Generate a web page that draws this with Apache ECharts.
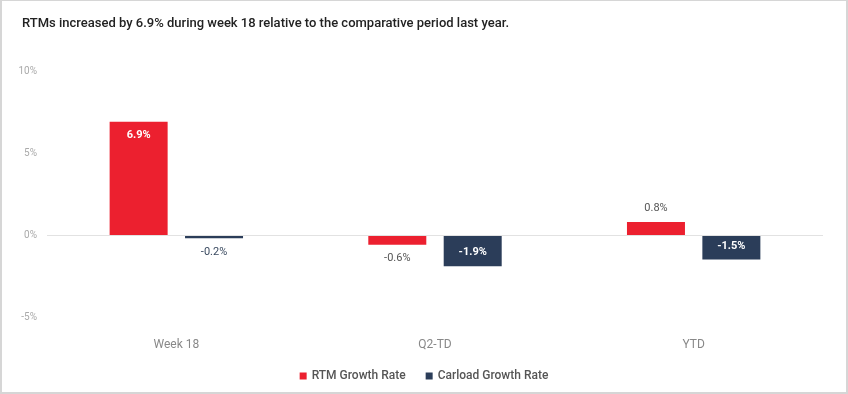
<!DOCTYPE html>
<html><head><meta charset="utf-8">
<script src="https://cdn.jsdelivr.net/npm/echarts@6/dist/echarts.min.js"></script>
<style>
html,body{margin:0;padding:0;background:#fff;}
#wrap{position:absolute;left:0;top:0;width:848px;height:394px;box-sizing:border-box;border:2px solid #d6d6d6;border-top-width:1px;}
#c{position:absolute;left:0;top:0;width:848px;height:394px;}
</style></head>
<body><div id="wrap"></div><div id="c"></div>
<script>
const titleText = "RTMs increased by 6.9% during week 18 relative to the comparative period last year.";
const categories = ["Week 18", "Q2-TD", "YTD"];
const rtmValues = [6.9, -0.6, 0.8];
const carloadValues = [-0.2, -1.9, -1.5];
const yTicks = [-5, 0, 5, 10];
const seriesNames = ["RTM Growth Rate", "Carload Growth Rate"];

const RED = "#ec202f", NAVY = "#2b3d59";
const fmt = v => v.toFixed(1) + "%";

function labelFor(v, inside, outsideColor) {
  if (inside) {
    return {show: true, position: v >= 0 ? "insideTop" : "insideBottom", distance: 8,
      color: "#fff", fontWeight: "bold", fontSize: 11, fontFamily: "Roboto", formatter: p => fmt(p.value)};
  }
  return {show: true, position: v >= 0 ? "top" : "bottom", distance: 8,
    color: outsideColor, fontSize: 11, fontFamily: "Roboto", formatter: p => fmt(p.value)};
}
function makeData(vals, outsideColor) {
  return vals.map(v => ({value: v, label: labelFor(v, Math.abs(v) >= 1.5, outsideColor)}));
}

const chart = echarts.init(document.getElementById("c"));
chart.setOption({
  animation: false,
  title: {text: titleText, left: 17, top: 12,
    textStyle: {fontFamily: "Roboto", fontSize: 13, fontWeight: 500, color: "#222"}},
  grid: {left: 47, right: 25, top: 71, bottom: 77, containLabel: false},
  legend: {bottom: 7, left: "center", itemWidth: 7, itemHeight: 7, itemGap: 20,
    icon: "rect", textStyle: {fontFamily: "Roboto", fontSize: 12, color: "#555", fontWeight: 500},
    data: seriesNames},
  xAxis: {type: "category", data: categories,
    axisLine: {show: false, onZero: false}, axisTick: {show: false},
    axisLabel: {color: "#888", fontFamily: "Roboto", fontSize: 12, margin: 22}},
  yAxis: {type: "value", min: yTicks[0], max: yTicks[yTicks.length-1], interval: 5,
    splitLine: {show: false}, axisLine: {show: false}, axisTick: {show: false},
    axisLabel: {color: "#aaa", fontFamily: "Roboto", fontSize: 10, formatter: v => v + "%", margin: 10}},
  series: [
    {name: seriesNames[0], type: "bar", data: makeData(rtmValues, "#555"),
      itemStyle: {color: RED}, barWidth: 58, barGap: "30%",
      markLine: {silent: true, symbol: "none", label: {show: false},
        lineStyle: {color: "#e2e2e2", type: "solid", width: 1}, data: [{yAxis: 0}]}},
    {name: seriesNames[1], type: "bar", data: makeData(carloadValues, "#3a4a60"),
      itemStyle: {color: NAVY}, barWidth: 58}
  ]
});
</script></body></html>
